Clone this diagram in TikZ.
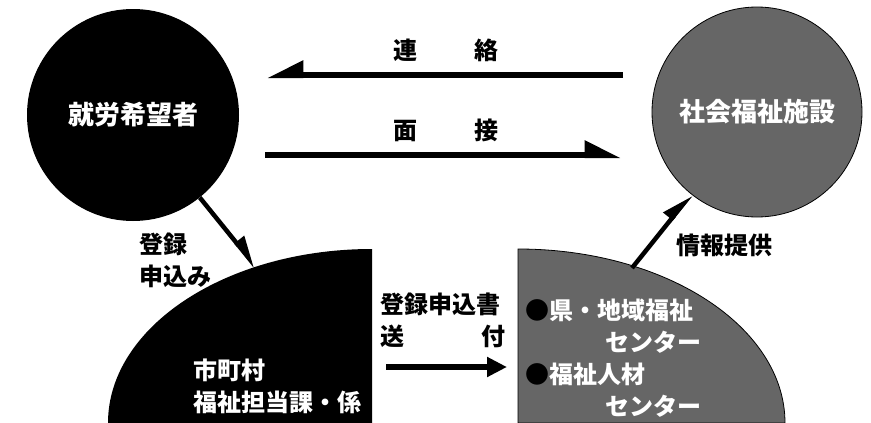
\documentclass[tikz,border=0pt]{standalone}
\usepackage{fontspec}
\setmainfont{Noto Sans CJK JP}
\usetikzlibrary{arrows.meta}

\begin{document}
\begin{tikzpicture}[x=1pt,y=-1pt,
    lbl/.style={font=\fontsize{24}{32}\selectfont\bfseries, inner sep=0pt},
    inlbl/.style={lbl, text=white, align=left},
    disc/.style={circle, inner sep=0pt, font=\fontsize{26}{32}\selectfont\bfseries, text=white},
    harp/.style={line width=6pt, -{Triangle[harpoon,length=30pt,width=28pt]}},
    harpswap/.style={line width=6pt, -{Triangle[harpoon,swap,length=30pt,width=28pt]}},
    slant/.style={line width=4.5pt, -{Triangle[harpoon,length=26pt,width=20pt]}},
    push/.style={line width=6pt, -{Triangle[length=20pt,width=19pt]}}]

    \useasboundingbox (0,0) rectangle (871,423);

    % the two circles
    \node[disc, fill=black, minimum size=212pt] (seeker) at (133,115) {就労希望者};
    \node[disc, fill=black!60, draw=black, thick, minimum size=210pt] (facility) at (757,112) {社会福祉施設};

    % the two quarter shapes at the bottom
    \fill (372,423) -- (372,249) arc[start angle=270, end angle=180, x radius=264, y radius=174] -- cycle;
    \filldraw[fill=black!60, thick] (518,423) -- (518,249) arc[start angle=270, end angle=360, x radius=267, y radius=174] -- cycle;

    \node[inlbl, anchor=west] (office) at (193,386) {市町村\\福祉担当課・係};
    \node[inlbl, anchor=west] (centre) at (525,358) {{\color{black}●}県・地域福祉\\\hspace{80pt}センター\\{\color{black}●}福祉人材\\\hspace{80pt}センター};

    \coordinate (officetop) at (256,267);
    \coordinate (centretop) at (632,268);

    % between the circles
    \coordinate (callA) at (623,75);
    \coordinate (callB) at (267,75);
    \coordinate (meetA) at (265,155);
    \coordinate (meetB) at (621,155);
    \draw[harpswap] (callA) -- (callB);
    \draw[harp] (meetA) -- (meetB);
    \node[lbl] (call) at (446,50) {連\hspace{58pt}絡};
    \node[lbl] (meet) at (446,130) {面\hspace{58pt}接};

    % to and from the bottom shapes
    \draw[slant] (seeker) -- (officetop);
    \draw[slant] (centretop) -- (facility);
    \node[lbl, anchor=west, align=left] (apply) at (139,260) {登録\\申込み};
    \node[lbl] (inform) at (724,245) {情報提供};

    \coordinate (sendA) at (386,367);
    \coordinate (sendB) at (507,367);
    \draw[push] (sendA) -- (sendB);
    \node[lbl, text width=125pt, align=left] (send) at (443,320) {登録申込書\\送\hfill 付};

\end{tikzpicture}
\end{document}
